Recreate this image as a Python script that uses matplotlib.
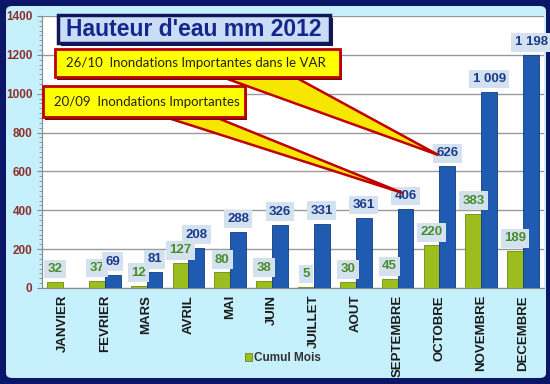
import matplotlib.pyplot as plt
from matplotlib.patches import FancyBboxPatch, Polygon, Rectangle
from matplotlib.ticker import MultipleLocator

mois = ["JANVIER", "FEVRIER", "MARS", "AVRIL", "MAI", "JUIN", "JUILLET",
        "AOUT", "SEPTEMBRE", "OCTOBRE", "NOVEMBRE", "DECEMBRE"]
pluie_mois = [32, 37, 12, 127, 80, 38, 5, 30, 45, 220, 383, 189]
cumul = [None, 69, 81, 208, 288, 326, 331, 361, 406, 626, 1009, 1198]

W, H = 550, 384
fig = plt.figure(figsize=(W / 100, H / 100), dpi=100)
fig.patch.set_facecolor('#0b1668')


def px(x, y):
    # pixel (from top-left) -> figure fraction
    return x / W, 1 - y / H


# light cyan panel
x0, y0 = px(6, 378)
x1, y1 = px(546, 6)
fig.patches.append(FancyBboxPatch((x0, y0), x1 - x0, y1 - y0,
                                  boxstyle="round,pad=0,rounding_size=0.012",
                                  transform=fig.transFigure, facecolor='#c6f0fb',
                                  edgecolor='none', zorder=-10))

l, b = px(42, 288)
r, t = px(544, 16)
ax = fig.add_axes([l, b, r - l, t - b])
ax.set_facecolor('white')

idx = list(range(len(mois)))
w = 0.38
ax.bar([i - 0.19 for i in idx], pluie_mois, width=w, color='#9cbd1e',
       edgecolor='#6f8a12', linewidth=0.6, zorder=3, label='Cumul Mois')
ci = [i for i in idx if cumul[i] is not None]
cv = [cumul[i] for i in ci]
ax.bar([i + 0.19 for i in ci], cv, width=w, color='#1f5bb0',
       edgecolor='#133c7a', linewidth=0.6, zorder=3)

box = dict(boxstyle='square,pad=0.25', facecolor='#d3e2ee', edgecolor='none')
for i, v in enumerate(pluie_mois):
    ax.annotate(str(v), (i - 0.19, v), xytext=(0, 5), textcoords='offset points',
                ha='center', va='bottom', fontsize=9.5, fontweight='bold',
                color='#4a8c28', bbox=box, zorder=5, family='Liberation Sans')
for i, v in zip(ci, cv):
    txt = f"{v:,}".replace(",", " ")
    ax.annotate(txt, (i + 0.19, v), xytext=(0, 5), textcoords='offset points',
                ha='center', va='bottom', fontsize=9.5, fontweight='bold',
                color='#1c3a8c', bbox=box, zorder=6, family='Liberation Sans')

ax.set_xlim(-0.5, 11.5)
ax.set_ylim(0, 1400)
ax.yaxis.set_major_locator(MultipleLocator(200))
ax.yaxis.set_minor_locator(MultipleLocator(25))
ax.grid(axis='y', color='#999999', linewidth=1, zorder=0)
ax.set_axisbelow(True)
for s in ['top', 'right']:
    ax.spines[s].set_visible(False)
for s in ['left', 'bottom']:
    ax.spines[s].set_color('#8a8a8a')
ax.tick_params(axis='y', which='both', color='#8a8a8a', labelcolor='#8b2f2f',
               labelsize=8.5, direction='out')
ax.tick_params(axis='y', which='minor', length=2)
ax.tick_params(axis='x', length=0, pad=5)
ax.set_xticks(idx)
ax.set_xticklabels(mois, rotation=90, fontsize=9.5, fontweight='bold',
                   family='Liberation Sans', color='#1a1a1a')
for lab in ax.get_yticklabels():
    lab.set_fontweight('bold')
    lab.set_family('Liberation Sans')

# title box
tx0, ty0 = px(58, 43)
tx1, ty1 = px(330, 15)
fig.patches.append(Rectangle((tx0 + 0.005, ty0 - 0.008), tx1 - tx0, ty1 - ty0,
                             transform=fig.transFigure, facecolor='#10185a',
                             edgecolor='none', zorder=6))
fig.patches.append(Rectangle((tx0, ty0), tx1 - tx0, ty1 - ty0,
                             transform=fig.transFigure, facecolor='#cadcf6',
                             edgecolor='#10185a', linewidth=2.5, zorder=7))
fig.text((tx0 + tx1) / 2, (ty0 + ty1) / 2, "Hauteur d'eau mm 2012",
         ha='center', va='center', fontsize=16.5, fontweight='bold',
         color='#14288c', family='Liberation Sans', zorder=8)


def callout(bx0, by0, bx1, by1, base0, base1, tip, text, z):
    tipx, tipy = ax.transData.transform(tip)
    tipf = fig.transFigure.inverted().transform((tipx, tipy))
    p0 = px(base0, by1)
    p1 = px(base1, by1)
    fig.patches.append(Polygon([p0, p1, tipf], closed=True,
                               transform=fig.transFigure, facecolor='#f7e600',
                               edgecolor='#c00000', linewidth=1.8, zorder=z))
    a0 = px(bx0, by1)
    a1 = px(bx1, by0)
    fig.patches.append(Rectangle((a0[0] + 0.004, a0[1] - 0.007), a1[0] - a0[0],
                                 a1[1] - a0[1], transform=fig.transFigure,
                                 facecolor='#5a1010', edgecolor='none', zorder=z))
    fig.patches.append(Rectangle(a0, a1[0] - a0[0], a1[1] - a0[1],
                                 transform=fig.transFigure, facecolor='#ffff00',
                                 edgecolor='#c00000', linewidth=2, zorder=z + 0.5))
    fig.text(a0[0] + 0.02, (a0[1] + a1[1]) / 2, text, ha='left', va='center',
             fontsize=9.5, color='#222222', family='Lato', zorder=z + 1)


callout(55, 49, 340, 77, 222, 295, (8.98, 684),
        "26/10  Inondations Importantes dans le VAR", 9)
callout(43, 86, 245, 117, 165, 215, (8.12, 489),
        "20/09  Inondations Importantes", 11)

leg = fig.legend(handles=[ax.containers[0]], labels=['Cumul Mois'],
                 loc='center', bbox_to_anchor=px(283, 358), frameon=False,
                 handlelength=0.6, handleheight=0.6, handletextpad=0.2,
                 prop={'family': 'Liberation Sans', 'weight': 'bold', 'size': 8.5})
for t_ in leg.get_texts():
    t_.set_color('#333333')

fig.savefig('out.png', dpi=100, facecolor=fig.get_facecolor())
